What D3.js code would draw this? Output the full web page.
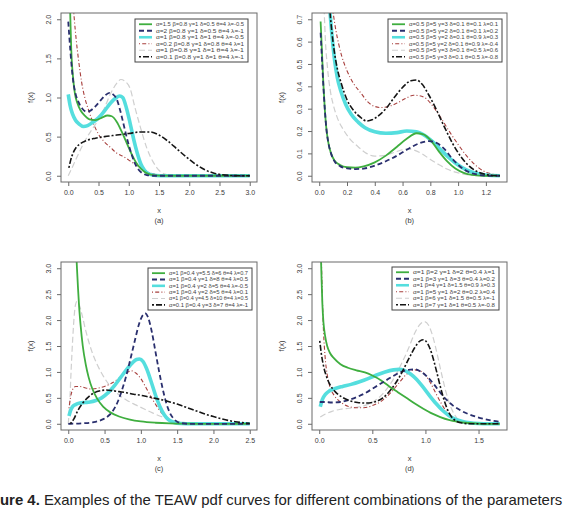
<!DOCTYPE html>
<html><head><meta charset="utf-8">
<script src="https://cdn.jsdelivr.net/npm/d3@7"></script>
<style>body{margin:0;background:#fff}svg{display:block}</style>
</head><body>
<script>
// ---------- data ----------
const seriesNames = ["green","navy","cyan","red","gray","black"];

const legendA = ["α=1.5 β=0.8 γ=1 δ=0.5 θ=4 λ=-0.5","α=2 β=0.8 γ=1 δ=0.5 θ=4 λ=-1","α=1 β=0.8 γ=1 δ=1 θ=4 λ=-0.5","α=0.2 β=0.8 γ=1 δ=0.8 θ=4 λ=1","α=1 β=0.8 γ=1 δ=1 θ=4 λ=-1","α=0.1 β=0.8 γ=1 δ=1 θ=4 λ=-1"];
const legendB = ["α=0.5 β=5 γ=3 δ=0.1 θ=0.1 λ=0.1","α=0.5 β=5 γ=2 δ=0.1 θ=0.1 λ=0.2","α=0.5 β=5 γ=2 δ=0.1 θ=0.9 λ=0.3","α=0.5 β=5 γ=2 δ=0.1 θ=0.9 λ=-0.4","α=0.5 β=5 γ=3 δ=0.1 θ=0.5 λ=0.6","α=0.5 β=5 γ=3 δ=0.1 θ=0.5 λ=-0.8"];
const legendC = ["α=1 β=0.4 γ=5.5 δ=6 θ=4 λ=0.7","α=1 β=0.4 γ=1 δ=8 θ=4 λ=0.5","α=1 β=0.4 γ=2 δ=5 θ=4 λ=-0.5","α=1 β=0.4 γ=2 δ=5 θ=4 λ=0.1","α=1 β=0.4 γ=4.5 δ=10 θ=4 λ=0.5","α=0.1 β=0.4 γ=3 δ=7 θ=4 λ=-1"];
const legendD = ["α=1 β=2 γ=1 δ=2 θ=0.4 λ=1","α=1 β=3 γ=1 δ=3 θ=0.4 λ=0.2","α=1 β=4 γ=1 δ=1.5 θ=0.9 λ=0.3","α=1 β=5 γ=1 δ=2 θ=0.2 λ=0.4","α=1 β=6 γ=1 δ=1.5 θ=0.5 λ=-1","α=1 β=7 γ=1 δ=1 θ=0.5 λ=-0.8"];

const xTicksA = [0,0.5,1,1.5,2,2.5,3], yTicksA = [0,0.5,1,1.5,2];
const xTicksB = [0,0.2,0.4,0.6,0.8,1,1.2], yTicksB = [0,0.1,0.2,0.3,0.4,0.5,0.6,0.7];
const xTicksC = [0,0.5,1,1.5,2,2.5], yTicksC = [0,0.5,1,1.5,2,2.5,3];
const xTicksD = [0,0.5,1,1.5], yTicksD = [0,0.5,1,1.5,2,2.5,3];

// panel (a)
const aGreen = [[0.02,2.4],[0.035,2.0],[0.05,1.6],[0.08,1.25],[0.11,1.05],[0.15,0.93],[0.2,0.84],[0.27,0.77],[0.35,0.72],[0.45,0.71],[0.55,0.74],[0.65,0.77],[0.72,0.76],[0.8,0.69],[0.88,0.57],[0.96,0.43],[1.04,0.29],[1.12,0.17],[1.2,0.09],[1.28,0.04],[1.38,0.012],[1.5,0.002],[1.7,0],[3,0]];
const aNavy = [[0,1.97],[0.02,1.75],[0.05,1.45],[0.08,1.22],[0.12,1.05],[0.17,0.94],[0.23,0.86],[0.3,0.82],[0.36,0.83],[0.44,0.88],[0.52,0.95],[0.6,1.02],[0.68,1.06],[0.74,1.04],[0.8,0.98],[0.86,0.83],[0.92,0.64],[0.98,0.45],[1.04,0.29],[1.1,0.16],[1.16,0.08],[1.22,0.035],[1.3,0.008],[1.4,0],[3,0]];
const aCyan = [[0,1.04],[0.03,0.9],[0.07,0.79],[0.12,0.71],[0.18,0.66],[0.25,0.63],[0.32,0.64],[0.4,0.68],[0.5,0.74],[0.6,0.83],[0.7,0.93],[0.78,0.99],[0.85,1.02],[0.9,1.0],[0.96,0.87],[1.02,0.68],[1.08,0.47],[1.14,0.29],[1.2,0.15],[1.26,0.07],[1.34,0.02],[1.45,0.003],[1.6,0],[3,0]];
const aRed = [[0.08,2.2],[0.1,2.0],[0.13,1.75],[0.17,1.48],[0.22,1.2],[0.28,0.98],[0.34,0.83],[0.42,0.66],[0.5,0.53],[0.6,0.43],[0.7,0.36],[0.8,0.29],[0.9,0.25],[1.0,0.2],[1.1,0.15],[1.2,0.1],[1.3,0.055],[1.4,0.025],[1.5,0.008],[1.65,0],[3,0]];
const aGray = [[0,0],[0.05,0.08],[0.12,0.2],[0.2,0.33],[0.3,0.48],[0.4,0.6],[0.5,0.72],[0.6,0.87],[0.7,1.05],[0.8,1.18],[0.87,1.23],[0.95,1.2],[1.02,1.12],[1.1,0.88],[1.2,0.6],[1.3,0.35],[1.4,0.18],[1.5,0.07],[1.6,0.02],[1.7,0.005],[1.8,0],[3,0]];
const aBlack = [[0.01,0.1],[0.04,0.2],[0.08,0.29],[0.13,0.36],[0.2,0.41],[0.3,0.45],[0.45,0.48],[0.6,0.5],[0.8,0.52],[1.0,0.54],[1.2,0.56],[1.35,0.56],[1.5,0.52],[1.65,0.44],[1.8,0.34],[1.95,0.24],[2.1,0.15],[2.25,0.08],[2.4,0.035],[2.55,0.012],[2.7,0.003],[2.85,0],[3,0]];

// panel (b)
const bGreen = [[0.01,0.69],[0.02,0.55],[0.03,0.41],[0.04,0.3],[0.05,0.22],[0.065,0.15],[0.085,0.1],[0.11,0.068],[0.15,0.048],[0.2,0.038],[0.26,0.036],[0.32,0.042],[0.4,0.06],[0.48,0.09],[0.56,0.13],[0.63,0.165],[0.7,0.19],[0.75,0.185],[0.8,0.16],[0.86,0.11],[0.92,0.065],[0.98,0.032],[1.04,0.013],[1.1,0.004],[1.2,0],[1.3,0]];
const bNavy = [[0.01,0.64],[0.02,0.52],[0.03,0.4],[0.04,0.3],[0.05,0.22],[0.065,0.15],[0.085,0.1],[0.11,0.065],[0.15,0.043],[0.2,0.033],[0.26,0.03],[0.32,0.032],[0.4,0.045],[0.48,0.065],[0.56,0.09],[0.64,0.12],[0.72,0.145],[0.79,0.155],[0.85,0.145],[0.9,0.12],[0.96,0.075],[1.02,0.038],[1.08,0.016],[1.14,0.005],[1.22,0],[1.3,0]];
const bCyan = [[0.075,0.75],[0.09,0.64],[0.11,0.52],[0.13,0.44],[0.155,0.38],[0.19,0.32],[0.23,0.275],[0.28,0.24],[0.33,0.215],[0.4,0.197],[0.48,0.19],[0.56,0.193],[0.63,0.2],[0.7,0.197],[0.76,0.18],[0.82,0.15],[0.88,0.113],[0.94,0.078],[1.0,0.048],[1.06,0.026],[1.12,0.012],[1.2,0.003],[1.3,0]];
const bRed = [[0.1,0.73],[0.12,0.65],[0.14,0.59],[0.16,0.54],[0.2,0.47],[0.25,0.41],[0.3,0.37],[0.35,0.33],[0.4,0.31],[0.45,0.305],[0.5,0.31],[0.56,0.325],[0.62,0.345],[0.68,0.36],[0.72,0.358],[0.77,0.345],[0.82,0.31],[0.88,0.255],[0.94,0.195],[1.0,0.14],[1.06,0.09],[1.12,0.05],[1.18,0.022],[1.24,0.008],[1.3,0.002]];
const bGray = [[0.035,0.75],[0.045,0.6],[0.06,0.48],[0.08,0.38],[0.1,0.32],[0.13,0.26],[0.17,0.21],[0.22,0.165],[0.28,0.13],[0.34,0.1],[0.4,0.088],[0.46,0.09],[0.52,0.1],[0.58,0.113],[0.63,0.12],[0.68,0.115],[0.74,0.098],[0.8,0.073],[0.86,0.05],[0.92,0.03],[0.98,0.016],[1.05,0.006],[1.12,0.001],[1.3,0]];
const bBlack = [[0.075,0.75],[0.09,0.65],[0.11,0.55],[0.13,0.48],[0.16,0.41],[0.2,0.34],[0.25,0.29],[0.3,0.26],[0.34,0.245],[0.38,0.25],[0.43,0.27],[0.48,0.3],[0.54,0.35],[0.6,0.395],[0.66,0.425],[0.7,0.428],[0.74,0.41],[0.79,0.36],[0.84,0.3],[0.9,0.22],[0.96,0.145],[1.02,0.085],[1.08,0.043],[1.14,0.018],[1.2,0.006],[1.26,0.001],[1.3,0]];

// panel (c)
const cGreen = [[0.11,3.3],[0.12,3.0],[0.135,2.6],[0.15,2.25],[0.17,1.9],[0.2,1.5],[0.24,1.15],[0.28,0.9],[0.33,0.68],[0.4,0.48],[0.48,0.33],[0.58,0.22],[0.7,0.14],[0.85,0.08],[1.0,0.045],[1.2,0.02],[1.4,0.007],[1.6,0.002],[1.8,0],[2.5,0]];
const cNavy = [[0,0],[0.2,0.01],[0.35,0.03],[0.45,0.07],[0.55,0.15],[0.62,0.26],[0.68,0.42],[0.74,0.65],[0.8,0.93],[0.86,1.27],[0.92,1.62],[0.97,1.9],[1.02,2.08],[1.06,2.13],[1.1,2.05],[1.15,1.78],[1.2,1.4],[1.25,1.02],[1.3,0.68],[1.35,0.4],[1.4,0.21],[1.45,0.1],[1.5,0.04],[1.56,0.012],[1.65,0],[2.5,0]];
const cCyan = [[0.01,0.15],[0.03,0.25],[0.06,0.33],[0.1,0.37],[0.16,0.4],[0.23,0.41],[0.3,0.42],[0.38,0.45],[0.46,0.5],[0.55,0.6],[0.64,0.74],[0.72,0.89],[0.8,1.04],[0.88,1.17],[0.94,1.24],[0.98,1.25],[1.03,1.2],[1.08,1.06],[1.14,0.82],[1.2,0.56],[1.26,0.34],[1.32,0.18],[1.38,0.08],[1.45,0.03],[1.55,0.005],[1.7,0],[2.5,0]];
const cRed = [[0.01,0.3],[0.03,0.5],[0.06,0.66],[0.1,0.72],[0.16,0.72],[0.24,0.69],[0.32,0.67],[0.42,0.69],[0.52,0.73],[0.62,0.8],[0.72,0.9],[0.8,0.98],[0.87,1.02],[0.93,0.98],[1.0,0.87],[1.07,0.7],[1.14,0.52],[1.21,0.36],[1.28,0.22],[1.35,0.12],[1.42,0.06],[1.5,0.025],[1.6,0.007],[1.75,0],[2.5,0]];
const cGray = [[0,0],[0.02,0.4],[0.04,1.05],[0.06,1.6],[0.08,2.05],[0.1,2.3],[0.12,2.36],[0.15,2.3],[0.19,2.1],[0.24,1.8],[0.3,1.5],[0.38,1.2],[0.47,0.95],[0.57,0.74],[0.68,0.58],[0.8,0.46],[0.92,0.37],[1.04,0.29],[1.16,0.21],[1.28,0.14],[1.4,0.08],[1.52,0.04],[1.65,0.015],[1.8,0.004],[2.0,0],[2.5,0]];
const cBlack = [[0.03,0],[0.08,0.1],[0.13,0.25],[0.2,0.4],[0.28,0.52],[0.36,0.6],[0.45,0.64],[0.52,0.65],[0.6,0.64],[0.7,0.62],[0.8,0.6],[0.9,0.57],[1.0,0.55],[1.1,0.52],[1.2,0.49],[1.3,0.46],[1.4,0.42],[1.5,0.38],[1.6,0.33],[1.7,0.28],[1.8,0.23],[1.9,0.18],[2.0,0.14],[2.1,0.1],[2.2,0.065],[2.3,0.04],[2.4,0.022],[2.5,0.01]];

// panel (d)
const dGreen = [[0.015,3.3],[0.022,2.8],[0.03,2.3],[0.04,1.95],[0.055,1.7],[0.075,1.5],[0.1,1.37],[0.14,1.26],[0.2,1.15],[0.27,1.08],[0.35,1.03],[0.43,0.99],[0.5,0.93],[0.58,0.84],[0.66,0.72],[0.74,0.61],[0.82,0.5],[0.9,0.39],[0.98,0.29],[1.06,0.2],[1.14,0.13],[1.22,0.075],[1.3,0.04],[1.4,0.015],[1.5,0.004],[1.6,0],[1.7,0]];
const dNavy = [[0.005,0.42],[0.05,0.42],[0.12,0.41],[0.2,0.42],[0.28,0.46],[0.36,0.52],[0.44,0.6],[0.52,0.7],[0.6,0.8],[0.68,0.9],[0.76,0.99],[0.84,1.04],[0.9,1.05],[0.96,1.0],[1.02,0.9],[1.08,0.76],[1.14,0.6],[1.2,0.46],[1.26,0.35],[1.33,0.26],[1.4,0.19],[1.47,0.14],[1.54,0.1],[1.62,0.065],[1.7,0.04]];
const dCyan = [[0.01,0.33],[0.03,0.47],[0.06,0.57],[0.1,0.64],[0.15,0.68],[0.22,0.72],[0.3,0.76],[0.38,0.81],[0.46,0.87],[0.54,0.94],[0.62,1.0],[0.7,1.04],[0.75,1.05],[0.8,1.03],[0.86,0.96],[0.92,0.85],[0.98,0.7],[1.04,0.54],[1.1,0.39],[1.16,0.26],[1.22,0.16],[1.28,0.09],[1.35,0.045],[1.42,0.02],[1.5,0.006],[1.6,0],[1.7,0]];
const dRed = [[0.02,3.2],[0.03,2.4],[0.04,1.8],[0.055,1.3],[0.075,0.95],[0.1,0.72],[0.14,0.55],[0.2,0.42],[0.27,0.34],[0.34,0.31],[0.42,0.31],[0.5,0.35],[0.58,0.43],[0.66,0.57],[0.74,0.76],[0.82,0.95],[0.9,1.04],[0.95,1.02],[1.0,0.94],[1.05,0.78],[1.1,0.58],[1.15,0.39],[1.2,0.23],[1.25,0.12],[1.3,0.055],[1.36,0.02],[1.45,0.004],[1.55,0],[1.7,0]];
const dGray = [[0.01,0.13],[0.05,0.18],[0.12,0.24],[0.2,0.28],[0.28,0.3],[0.36,0.32],[0.44,0.36],[0.52,0.44],[0.6,0.58],[0.68,0.8],[0.76,1.1],[0.84,1.45],[0.9,1.75],[0.95,1.92],[0.99,1.97],[1.03,1.9],[1.07,1.68],[1.11,1.35],[1.15,0.98],[1.19,0.64],[1.23,0.37],[1.27,0.19],[1.31,0.08],[1.35,0.03],[1.4,0.008],[1.5,0],[1.7,0]];
const dBlack = [[0.005,1.6],[0.02,1.35],[0.04,1.12],[0.07,0.9],[0.1,0.76],[0.15,0.62],[0.21,0.52],[0.28,0.45],[0.36,0.41],[0.44,0.4],[0.52,0.42],[0.6,0.5],[0.68,0.67],[0.76,0.92],[0.84,1.24],[0.9,1.47],[0.95,1.6],[0.98,1.62],[1.02,1.55],[1.06,1.35],[1.1,1.05],[1.14,0.72],[1.18,0.43],[1.22,0.22],[1.26,0.1],[1.3,0.04],[1.35,0.012],[1.42,0],[1.7,0]];

// caption as visible in the reference (its left part is cropped there)
const captionBold = "ure 4.";
const captionRest = " Examples of the TEAW pdf curves for different combinations of the parameters";

// ---------- styles ----------
const styles = {
  green: {stroke:"#3fae3f", width:1.8, dash:null},
  navy:  {stroke:"#2a2f6e", width:1.8, dash:"5,3"},
  cyan:  {stroke:"#55dede", width:3.6, dash:null},
  red:   {stroke:"#a8403e", width:1.1, dash:"1,2.2,4,2.2"},
  gray:  {stroke:"#cfcfcf", width:1.2, dash:"6,3"},
  black: {stroke:"#151515", width:1.6, dash:"2,2,6,2"}
};

const W = 568, H = 515;
const FONT = "'Liberation Sans', Arial, sans-serif";
const svg = d3.select("body").append("svg").attr("width", W).attr("height", H)
  .style("font-family", FONT);

const panels = [
  {id:"a", box:{l:61,t:13,r:257,b:182}, xd:[0,3], yd:[0,2], xt:xTicksA, yt:yTicksA, leg:legendA, lb:{l:135,t:19,r:248,b:62}, data:[aGreen,aNavy,aCyan,aRed,aGray,aBlack]},
  {id:"b", box:{l:312,t:13,r:507,b:182}, xd:[0,1.3], yd:[0,0.7], xt:xTicksB, yt:yTicksB, leg:legendB, lb:{l:388,t:19,r:502,b:62}, data:[bGreen,bNavy,bCyan,bRed,bGray,bBlack]},
  {id:"c", box:{l:61,t:262,r:257,b:430}, xd:[0,2.5], yd:[0,3], xt:xTicksC, yt:yTicksC, leg:legendC, lb:{l:148,t:268,r:252,b:310}, data:[cGreen,cNavy,cCyan,cRed,cGray,cBlack]},
  {id:"d", box:{l:312,t:262,r:507,b:430}, xd:[0,1.7], yd:[0,3], xt:xTicksD, yt:yTicksD, leg:legendD, lb:{l:392,t:267,r:499,b:310}, data:[dGreen,dNavy,dCyan,dRed,dGray,dBlack]}
];

const txtCol = "#3a3a3a";
const fmt1 = d3.format(".1f");

panels.forEach(p => {
  const B = p.box;
  const pad = 0.04 / 1.08;
  const bw = B.r - B.l, bh = B.b - B.t;
  const x = d3.scaleLinear().domain(p.xd).range([B.l + bw*pad, B.r - bw*pad]);
  const y = d3.scaleLinear().domain(p.yd).range([B.b - bh*pad, B.t + bh*pad]);
  const g = svg.append("g");

  g.append("clipPath").attr("id", "clip-" + p.id).append("rect")
    .attr("x", B.l).attr("y", B.t).attr("width", bw).attr("height", bh);

  // curves
  const line = d3.line().x(d => x(d[0])).y(d => y(d[1])).curve(d3.curveMonotoneX);
  const order = [4,3,2,0,1,5];
  const cg = g.append("g").attr("clip-path", `url(#clip-${p.id})`);
  order.forEach(i => {
    const s = styles[seriesNames[i]];
    cg.append("path").datum(p.data[i]).attr("d", line)
      .attr("fill","none").attr("stroke", s.stroke).attr("stroke-width", s.width)
      .attr("stroke-dasharray", s.dash).attr("stroke-linejoin","round").attr("stroke-linecap","butt");
  });

  // box
  g.append("rect").attr("x", B.l).attr("y", B.t).attr("width", bw).attr("height", bh)
    .attr("fill","none").attr("stroke","#6a6a6a").attr("stroke-width",1);

  // x axis
  const xa = g.append("g").attr("transform", `translate(0,${B.b})`)
    .call(d3.axisBottom(x).tickValues(p.xt).tickFormat(fmt1).tickSize(4).tickPadding(4));
  xa.select(".domain").remove();
  xa.selectAll("line").attr("stroke","#6a6a6a");
  xa.selectAll("text").attr("fill", txtCol).style("font-size","7px").style("font-family", FONT);

  // y axis
  const ya = g.append("g").attr("transform", `translate(${B.l},0)`)
    .call(d3.axisLeft(y).tickValues(p.yt).tickFormat(fmt1).tickSize(4));
  ya.select(".domain").remove();
  ya.selectAll("line").attr("stroke","#6a6a6a");
  ya.selectAll("text").attr("fill", txtCol).style("font-size","7px").style("font-family", FONT)
    .attr("x", null).attr("dy", null).attr("text-anchor","middle")
    .attr("transform", "translate(-10.5,0) rotate(-90)");

  // axis titles
  g.append("text").attr("x", (B.l+B.r)/2).attr("y", B.b + 31).attr("text-anchor","middle")
    .attr("fill", txtCol).style("font-size","7.5px").text("x");
  g.append("text").attr("x", (B.l+B.r)/2).attr("y", B.b + 41).attr("text-anchor","middle")
    .attr("fill", txtCol).style("font-size","7.5px").text(`(${p.id})`);
  g.append("text").attr("transform", `translate(${B.l-28},${(B.t+B.b)/2}) rotate(-90)`)
    .attr("text-anchor","middle").attr("fill", txtCol).style("font-size","7.5px").text("f(x)");

  // legend
  const L = p.lb;
  g.append("rect").attr("x", L.l).attr("y", L.t).attr("width", L.r-L.l).attr("height", L.b-L.t)
    .attr("fill","#fff").attr("stroke","#444").attr("stroke-width",1);
  const rowH = (L.b - L.t - 4) / 6;
  p.leg.forEach((lab, i) => {
    const s = styles[seriesNames[i]];
    const cy = L.t + 2 + rowH*(i+0.5);
    g.append("line").attr("x1", L.l+4).attr("x2", L.l+17).attr("y1", cy).attr("y2", cy)
      .attr("stroke", s.stroke).attr("stroke-width", Math.min(s.width, 2.6)).attr("stroke-dasharray", s.dash);
    g.append("text").attr("x", L.l+21).attr("y", cy+1.8).attr("fill","#444")
      .style("font-size","5px").attr("textLength", (L.r - L.l) - 25).attr("lengthAdjust","spacingAndGlyphs")
      .text(lab);
  });
});

// caption, sized so that it spans the page width as in the reference
const cap = svg.append("text").attr("x", 0).attr("y", 505).attr("fill","#222")
  .style("font-size","14px").style("font-family", FONT);
cap.append("tspan").style("font-weight","bold").text(captionBold);
cap.append("tspan").text(captionRest);
const capW = cap.node().getComputedTextLength();
cap.style("font-size", (14 * 563 / capW).toFixed(2) + "px");
</script>
</body></html>
